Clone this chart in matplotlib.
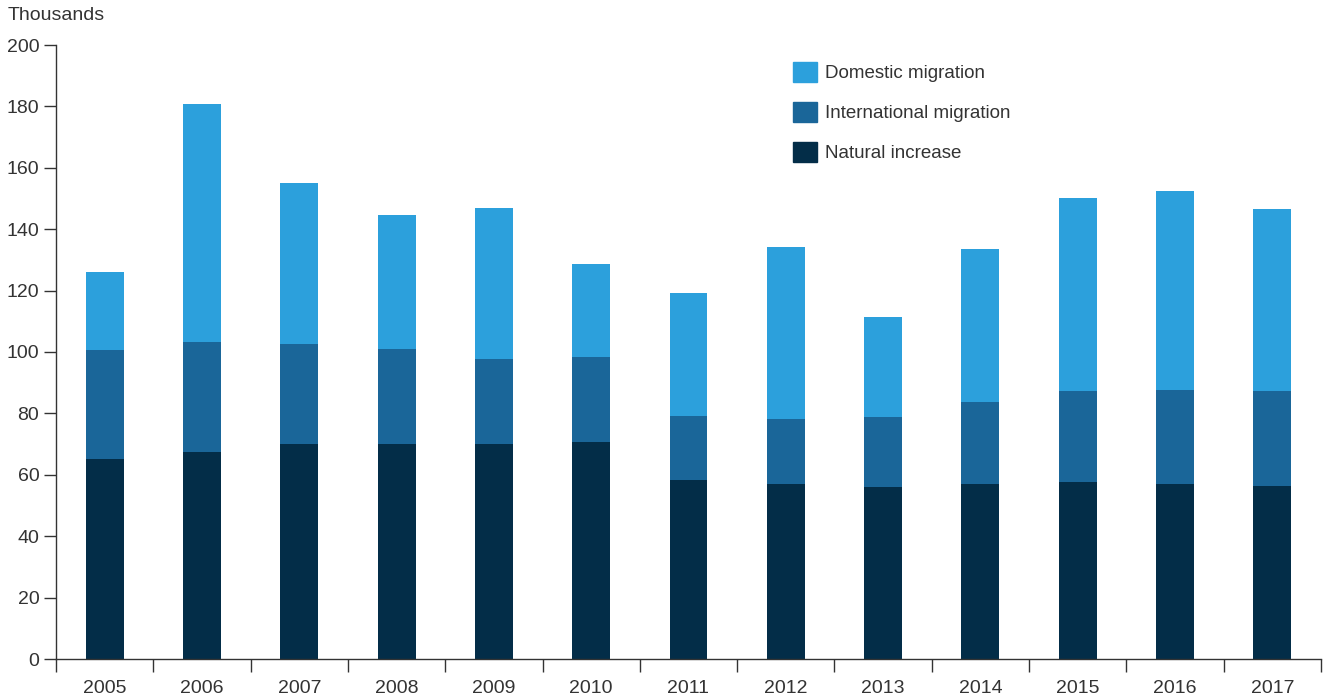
import matplotlib
matplotlib.use("Agg")
import matplotlib.pyplot as plt
from matplotlib.patches import Patch
import numpy as np

plt.rcParams['font.family'] = ['Liberation Sans', 'DejaVu Sans']

years = ["2005", "2006", "2007", "2008", "2009", "2010", "2011", "2012",
         "2013", "2014", "2015", "2016", "2017"]
natural = [65.1, 67.4, 70.0, 70.0, 70.0, 70.7, 58.3, 57.0, 56.0, 57.0, 57.7, 57.0, 56.4]
international = [35.6, 35.9, 32.6, 31.0, 27.7, 27.7, 20.9, 21.2, 22.8, 26.7, 29.6, 30.6, 30.9]
domestic = [25.4, 77.5, 52.4, 43.6, 49.2, 30.3, 40.0, 56.0, 32.6, 49.9, 62.9, 64.8, 59.3]

c_nat = "#032d48"
c_int = "#1a6699"
c_dom = "#2ca0dc"
txt = "#333333"
fs = 14
lfs = 13.5

W, H = 1323, 698
fig = plt.figure(figsize=(W / 100, H / 100), dpi=100)
ax = fig.add_axes([56 / W, 39 / H, (1321 - 56) / W, (659 - 45) / H])

x = np.arange(len(years))
nat = np.array(natural)
intl = np.array(international)
dom = np.array(domestic)
bw = 0.39
ax.bar(x, nat, bw, color=c_nat, zorder=2)
ax.bar(x, intl, bw, bottom=nat, color=c_int, zorder=2)
ax.bar(x, dom, bw, bottom=nat + intl, color=c_dom, zorder=2)

ax.set_xlim(-0.5, len(years) - 0.5)
ax.set_ylim(0, 200)
ax.set_yticks(np.arange(0, 201, 20))
ax.set_xticks(x)
ax.set_xticklabels(years)
ax.set_xticks(np.arange(-0.5, len(years)), minor=True)
ax.tick_params(axis='x', which='major', length=0, pad=15, labelsize=fs, labelcolor=txt)
ax.tick_params(axis='x', which='minor', length=9, width=1, color=txt, direction='out')
ax.tick_params(axis='y', length=9, width=1, color=txt, labelsize=fs, labelcolor=txt, pad=3)
for s in ['top', 'right']:
    ax.spines[s].set_visible(False)
for s in ['left', 'bottom']:
    ax.spines[s].set_color(txt)
    ax.spines[s].set_linewidth(1)

fig.text(8 / W, 1 - 15 / H, "Thousands", fontsize=fs, color=txt, va='center', ha='left')

handles = [Patch(color=c_dom), Patch(color=c_int), Patch(color=c_nat)]
labels = ["Domestic migration", "International migration", "Natural increase"]
leg = ax.legend(handles, labels, loc='upper left', bbox_to_anchor=(776 / W, 1 - 45 / H),
                bbox_transform=fig.transFigure, frameon=False, fontsize=lfs,
                handlelength=1.3, handleheight=1.3, labelspacing=1.04, handletextpad=0.4,
                labelcolor=txt)

fig.savefig("out.png", dpi=100)
